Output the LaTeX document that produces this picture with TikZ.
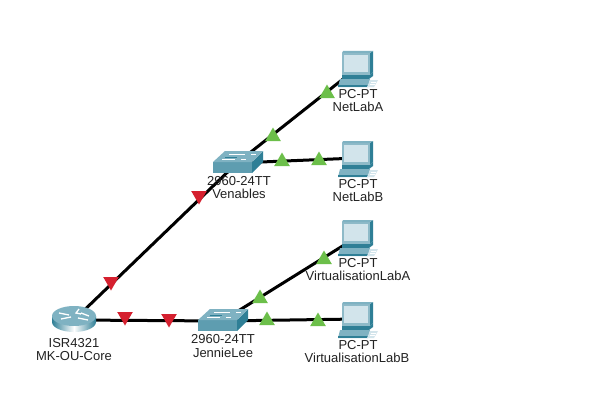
\documentclass[tikz,border=0pt]{standalone}
\usepackage{fontspec}
\setmainfont{Liberation Sans}
\usetikzlibrary{shapes.geometric}
\definecolor{tealtop}{HTML}{7FB2C2}
\definecolor{tealfront}{HTML}{5E9DB0}
\definecolor{tealside}{HTML}{2F7F96}
\definecolor{screenc}{HTML}{D2E4EB}
\definecolor{linktri}{HTML}{6CBF4A}
\definecolor{downtri}{HTML}{D5202F}
\definecolor{labelc}{HTML}{222222}
\tikzset{
  x=1pt,y=-1pt,
  link/.style={line width=3pt,black},
  lbl/.style={font=\fontsize{13}{13}\selectfont,text=labelc,inner sep=0pt,anchor=center,yshift=-0.8pt},
  hub/.style={shape=coordinate},
  up/.style={regular polygon,regular polygon sides=3,fill=linktri,draw=none,inner sep=0pt,minimum size=18pt,yshift=-1.5pt},
  down/.style={regular polygon,regular polygon sides=3,shape border rotate=180,fill=downtri,draw=none,inner sep=0pt,minimum size=18pt,yshift=1.5pt},
  pics/pcicon/.style={code={
    % monitor
    \fill[tealfront!70!white] (-15,-15) -- (13,-15) -- (13,7) -- (-15,7) -- cycle;
    \fill[tealside] (13,-15) -- (16,-17) -- (16,4) -- (13,7) -- cycle;
    \fill[tealtop] (-15,-15) -- (-14,-17) -- (16,-17) -- (13,-15) -- cycle;
    \fill[screenc] (-13,-13) rectangle (11,4);
    % base
    \fill[tealside] (-15,7) -- (13,7) -- (16,4) -- (16,8) -- (12,11) -- (-15,11) -- cycle;
    \fill[tealtop] (-17,11) -- (13,11) -- (11,19) -- (-19,19) -- cycle;
    \fill[tealside] (-19,17) -- (11,17) -- (11,19) -- (-19,19) -- cycle;
    % keyboard
    \fill[screenc] (13,12) -- (21,12) -- (17,19) -- (10,19) -- cycle;
    \draw[white,line width=.5pt] (14,14) -- (19,14) (13,16) -- (18,16);
  }},
  pics/switchicon/.style={code={
    \fill[tealfront] (-24,-1) rectangle (15,10);
    \fill[tealside] (15,-1) -- (26,-12) -- (26,-1) -- (15,10) -- cycle;
    \fill[tealtop] (-24,-1) -- (-12,-12) -- (26,-12) -- (15,-1) -- cycle;
    \draw[white,line width=.7pt] (-8,-9) -- (8,-9) (-15,-4) -- (-2,-4) (4,-4) -- (9,-4) (14,-9) -- (19,-9);
    \draw[tealside,line width=.5pt] (-12,-6) -- (0,-6);
  }},
  pics/routericon/.style={code={
    \shade[left color=tealside,right color=tealside,middle color=white]
      (-22,-4) -- (-22,2) arc[start angle=180,end angle=360,x radius=22pt,y radius=10pt]
      -- (22,-4) -- cycle;
    \fill[tealtop] (0,-4) ellipse[x radius=22,y radius=10];
    \draw[white,line width=1.3pt] (-15,-7) -- (-5,-5) (-13,-1) -- (-3,-3)
      (5,-11) -- (2,-7) -- (7,-6) (4,-2) -- (14,0) (7,-7) -- (15,-4);
  }}
}
\begin{document}
\begin{tikzpicture}
\useasboundingbox (0,0) rectangle (599,404);
\fill[white] (0,0) rectangle (599,404);
% hubs
\node[hub] (core) at (74,320) {};
\node[hub] (ven) at (237,163) {};
\node[hub] (jen) at (222,321) {};
\node[hub] (pca) at (357,68) {};
\node[hub] (pcb) at (357,158) {};
\node[hub] (pcc) at (357,237) {};
\node[hub] (pcd) at (357,319) {};
% connectors
\draw[link] (core) -- (ven);
\draw[link] (core) -- (jen);
\draw[link] (ven) -- (pca);
\draw[link] (ven) -- (pcb);
\draw[link] (jen) -- (pcc);
\draw[link] (jen) -- (pcd);
% icons
\pic at (core) {routericon};
\pic at (ven) {switchicon};
\pic at (jen) {switchicon};
\pic at (pca) {pcicon};
\pic at (pcb) {pcicon};
\pic at (pcc) {pcicon};
\pic at (pcd) {pcicon};
% link lights
\node[up] (u1) at (273,135) {};
\node[up] (u2) at (327,92) {};
\node[up] (u3) at (282,160) {};
\node[up] (u4) at (319,159) {};
\node[up] (u5) at (260,297) {};
\node[up] (u6) at (324,258) {};
\node[up] (u7) at (267,319) {};
\node[up] (u8) at (318,320) {};
\node[down] (d1) at (199,197) {};
\node[down] (d2) at (111,283) {};
\node[down] (d3) at (125,318) {};
\node[down] (d4) at (169,320) {};
% labels
\node[lbl] (l1) at (74,342) {ISR4321};
\node[lbl] (l2) at (74,355) {MK-OU-Core};
\node[lbl] (l3) at (239,180) {2960-24TT};
\node[lbl] (l4) at (239,193) {Venables};
\node[lbl] (l5) at (223,338) {2960-24TT};
\node[lbl] (l6) at (223,352) {JennieLee};
\node[lbl] (l7) at (358,93) {PC-PT};
\node[lbl] (l8) at (358,106) {NetLabA};
\node[lbl] (l9) at (358,183) {PC-PT};
\node[lbl] (l10) at (358,196) {NetLabB};
\node[lbl] (l11) at (358,262) {PC-PT};
\node[lbl] (l12) at (358,275) {VirtualisationLabA};
\node[lbl] (l13) at (358,344) {PC-PT};
\node[lbl] (l14) at (357,357) {VirtualisationLabB};
\end{tikzpicture}
\end{document}
